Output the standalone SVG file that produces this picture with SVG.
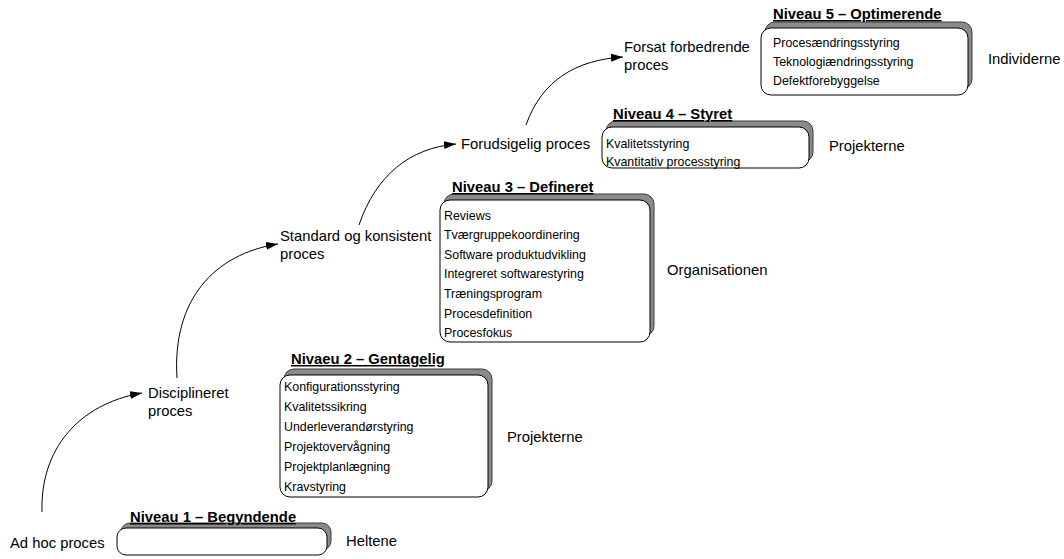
<svg xmlns="http://www.w3.org/2000/svg" width="1064" height="559" viewBox="0 0 1064 559">
  <defs>
    <style>
      .shadow { fill: #8a8a8a; stroke: #3a3a3a; stroke-width: 1; }
      .front { fill: #ffffff; stroke: #000000; stroke-width: 1; }
      .title { font-family: "Liberation Sans", Arial, sans-serif; font-size: 14.8px; font-weight: bold; text-decoration: underline; fill: #000; }
      .item { font-family: "Liberation Sans", Arial, sans-serif; font-size: 12.4px; fill: #000; }
      .label { font-family: "Liberation Sans", Arial, sans-serif; font-size: 14.8px; fill: #000; }
      .conn { fill: none; stroke: #000; stroke-width: 1; }
    </style>
    <marker id="arrow" viewBox="0 0 12 8" refX="12" refY="4" markerWidth="12" markerHeight="8" markerUnits="userSpaceOnUse" orient="auto">
      <path d="M0,0 L12,4 L0,8 Z" fill="#000"/>
    </marker>
  </defs>
  <rect width="1064" height="559" fill="#ffffff"/>

  <!-- connectors between process stages -->
  <g id="connectors">
    <path class="conn" marker-end="url(#arrow)" d="M42,512 C40,450 78,404 142,393"/>
    <path class="conn" marker-end="url(#arrow)" d="M177,378 C172,300 214,254 278,244"/>
    <path class="conn" marker-end="url(#arrow)" d="M359,225 C376,175 410,148 456,144"/>
    <path class="conn" marker-end="url(#arrow)" d="M526,125 C542,80 576,60 623,57"/>
  </g>

  <!-- process stage labels -->
  <g id="stage-adhoc"><text class="label" x="10" y="548">Ad hoc proces</text></g>
  <g id="stage-disciplined"><text class="label" x="148" y="398">Disciplineret</text><text class="label" x="148" y="416">proces</text></g>
  <g id="stage-standard"><text class="label" x="280" y="241">Standard og konsistent</text><text class="label" x="280" y="259">proces</text></g>
  <g id="stage-predictable"><text class="label" x="461" y="149">Forudsigelig proces</text></g>
  <g id="stage-improving"><text class="label" x="624" y="52">Forsat forbedrende</text><text class="label" x="624" y="70">proces</text></g>

  <!-- level 1 -->
  <g id="level1">
    <rect class="shadow" x="121" y="523" width="210" height="27" rx="9"/>
    <rect class="front" x="117" y="528" width="210" height="27" rx="9"/>
    <text class="title" x="130" y="522">Niveau 1 – Begyndende</text>
    <text class="label" x="346" y="546">Heltene</text>
  </g>

  <!-- level 2 -->
  <g id="level2">
    <rect class="shadow" x="284" y="369" width="208" height="122" rx="10"/>
    <rect class="front" x="280" y="375" width="208" height="122" rx="10"/>
    <text class="title" x="291" y="364">Nivaeu 2 – Gentagelig</text>
    <text class="item" x="284" y="390.5">Konfigurationsstyring</text>
    <text class="item" x="284" y="410.5">Kvalitetssikring</text>
    <text class="item" x="284" y="430.5">Underleverandørstyring</text>
    <text class="item" x="284" y="450.5">Projektovervågning</text>
    <text class="item" x="284" y="470.5">Projektplanlægning</text>
    <text class="item" x="284" y="490.5">Kravstyring</text>
    <text class="label" x="507" y="442">Projekterne</text>
  </g>

  <!-- level 3 -->
  <g id="level3">
    <rect class="shadow" x="444" y="194" width="210" height="142" rx="10"/>
    <rect class="front" x="440" y="200" width="210" height="142" rx="10"/>
    <text class="title" x="452" y="192">Niveau 3 – Defineret</text>
    <text class="item" x="444" y="219.5">Reviews</text>
    <text class="item" x="444" y="238.5">Tværgruppekoordinering</text>
    <text class="item" x="444" y="258.5">Software produktudvikling</text>
    <text class="item" x="444" y="277.5">Integreret softwarestyring</text>
    <text class="item" x="444" y="297.5">Træningsprogram</text>
    <text class="item" x="444" y="317.5">Procesdefinition</text>
    <text class="item" x="444" y="336.5">Procesfokus</text>
    <text class="label" x="667" y="275">Organisationen</text>
  </g>

  <!-- level 4 -->
  <g id="level4">
    <rect class="shadow" x="606" y="121" width="207" height="41" rx="10"/>
    <rect class="front" x="602" y="127" width="207" height="41" rx="10"/>
    <text class="title" x="613" y="119">Niveau 4 – Styret</text>
    <text class="item" x="606" y="147.5">Kvalitetsstyring</text>
    <text class="item" x="606" y="165.5">Kvantitativ processtyring</text>
    <text class="label" x="829" y="151">Projekterne</text>
  </g>

  <!-- level 5 -->
  <g id="level5">
    <rect class="shadow" x="765" y="22" width="207" height="67" rx="10"/>
    <rect class="front" x="761" y="28" width="207" height="67" rx="10"/>
    <text class="title" x="773" y="19">Niveau 5 – Optimerende</text>
    <text class="item" x="773" y="46.5">Procesændringsstyring</text>
    <text class="item" x="773" y="65.5">Teknologiændringsstyring</text>
    <text class="item" x="773" y="84.5">Defektforebyggelse</text>
    <text class="label" x="988" y="64">Individerne</text>
  </g>
</svg>
